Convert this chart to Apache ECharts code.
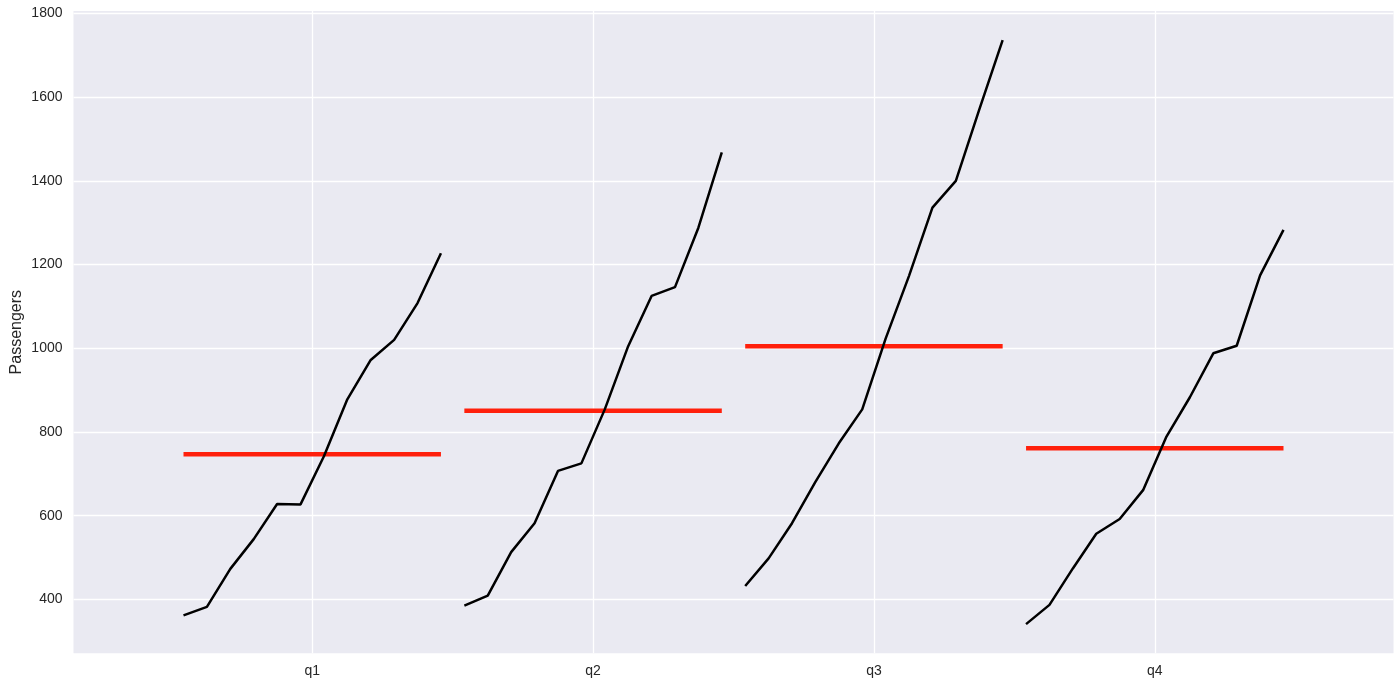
<!DOCTYPE html>
<html>
<head>
<meta charset="utf-8">
<script src="https://cdn.jsdelivr.net/npm/echarts@6/dist/echarts.min.js"></script>
<style>html,body{margin:0;padding:0;background:#fff}#c{width:1400px;height:686px}</style>
</head>
<body>
<div id="c"></div>
<script>
var quarters = ['q1', 'q2', 'q3', 'q4'];
var q1 = [362, 382, 473, 544, 628, 627, 742, 878, 972, 1020, 1108, 1227];
var q2 = [385, 409, 513, 582, 707, 725, 854, 1005, 1125, 1146, 1288, 1468];
var q3 = [432, 498, 582, 681, 773, 854, 1023, 1173, 1336, 1400, 1570, 1736];
var q4 = [341, 387, 474, 557, 592, 661, 789, 883, 988, 1006, 1174, 1283];
var means = [747, 851, 1005, 761];
var yTicks = [400, 600, 800, 1000, 1200, 1400, 1600, 1800];

var groups = [q1, q2, q3, q4];
var series = [];
var xTicks = [];
var start = 0;
groups.forEach(function (g, gi) {
  var pts = g.map(function (v, i) { return [start + i, v]; });
  xTicks.push(start + (g.length - 1) / 2);
  series.push({
    type: 'line', data: pts, symbol: 'none', z: 3,
    lineStyle: { color: '#000', width: 2.5 }, animation: false
  });
  series.push({
    type: 'line', data: [[start, means[gi]], [start + g.length - 1, means[gi]]],
    symbol: 'none', z: 2,
    lineStyle: { color: '#ff200c', width: 4.5, cap: 'butt' }, animation: false
  });
  start += g.length;
});

var font = '"Liberation Sans", Arial, sans-serif';
var chart = echarts.init(document.getElementById('c'));
chart.setOption({
  animation: false,
  grid: { left: 73.5, right: 6.5, top: 11, bottom: 32.7, show: true, backgroundColor: '#EAEAF2', borderWidth: 0,
    containLabel: false, outerBoundsMode: 'none' },
  xAxis: {
    type: 'value', min: -4.7, max: 51.7,
    axisLine: { show: false }, axisTick: { show: false, customValues: xTicks },
    axisLabel: { customValues: xTicks, color: '#262626', fontSize: 14, fontFamily: font, margin: 11,
      formatter: function (v) { var i = xTicks.indexOf(v); return i >= 0 ? quarters[i] : ''; } },
    splitLine: { show: true, lineStyle: { color: '#fff', width: 1.3 } }
  },
  yAxis: {
    type: 'value', min: 271.25, max: 1805.75,
    name: 'Passengers', nameLocation: 'middle', nameRotate: 90, nameGap: 49, nameMoveOverlap: false,
    nameTextStyle: { color: '#262626', fontSize: 16, fontFamily: font },
    axisLine: { show: false }, axisTick: { show: false, customValues: yTicks },
    axisLabel: { customValues: yTicks, color: '#262626', fontSize: 14, fontFamily: font, margin: 11,
      formatter: function (v) { return String(v); } },
    splitLine: { show: true, lineStyle: { color: '#fff', width: 1.3 } }
  },
  series: series
});
</script>
</body>
</html>
